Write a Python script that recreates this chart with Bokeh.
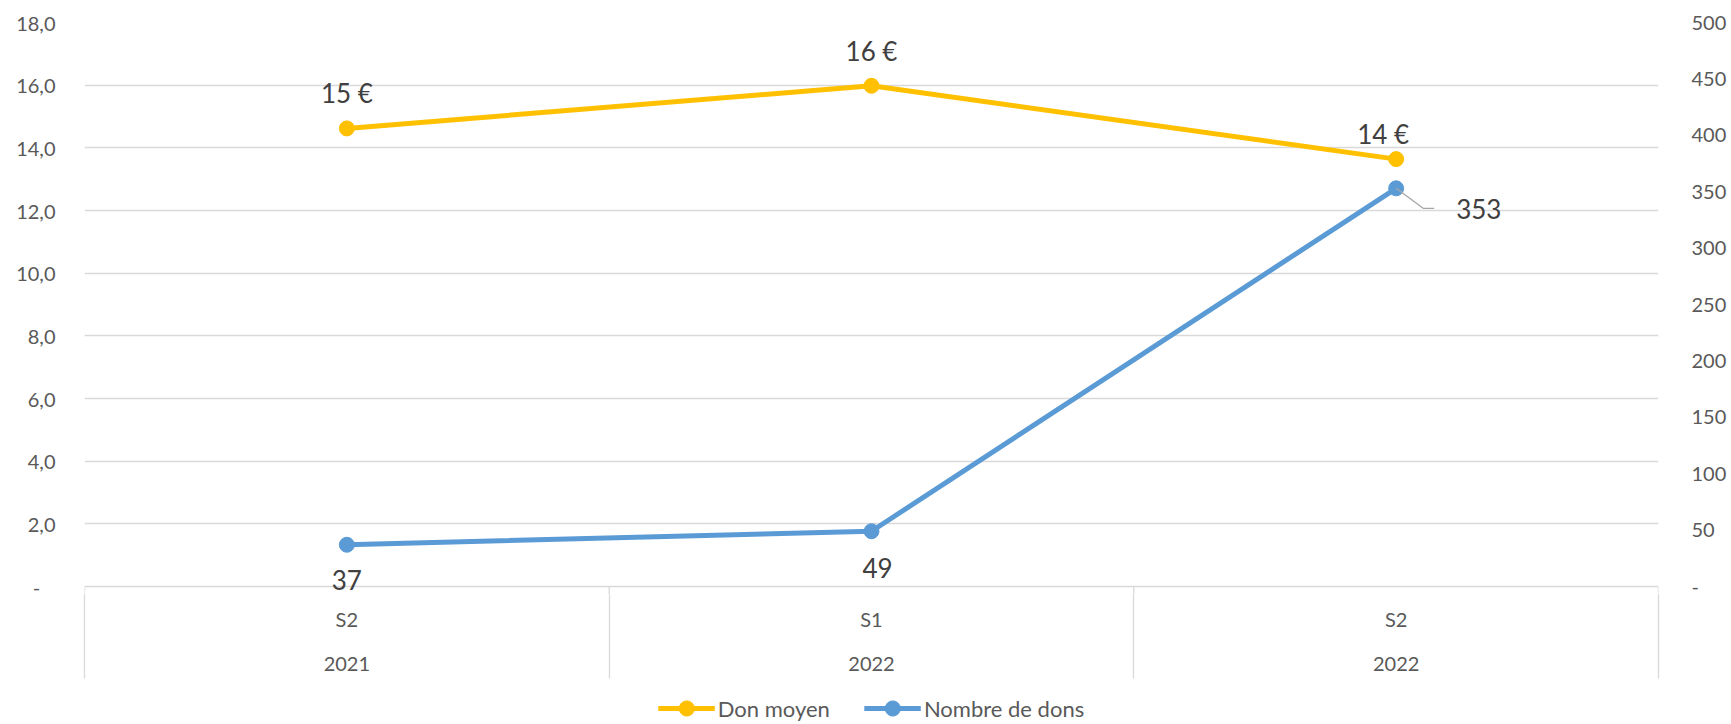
from bokeh.plotting import figure
from bokeh.layouts import column
from bokeh.models import (Range1d, LinearAxis, FixedTicker, Grid, Label,
                          Legend, LegendItem)
from bokeh.embed import file_html
from bokeh.resources import INLINE

# ---------------- data ----------------
semesters = ["S2", "S1", "S2"]
years = ["2021", "2022", "2022"]
don_moyen = [14.62, 15.98, 13.64]
nombre_dons = [37, 49, 353]
don_labels = ["15 €", "16 €", "14 €"]
nombre_labels = ["37", "49", "353"]
left_ticks = [0, 2, 4, 6, 8, 10, 12, 14, 16, 18]
left_tick_labels = ["-\u00a0\u00a0\u00a0", "2,0", "4,0", "6,0", "8,0", "10,0",
                    "12,0", "14,0", "16,0", "18,0"]
right_ticks = [0, 50, 100, 150, 200, 250, 300, 350, 400, 450, 500]
right_tick_labels = ["-", "50", "100", "150", "200", "250", "300", "350",
                     "400", "450", "500"]
series_names = ["Don moyen", "Nombre de dons"]

# ---------------- style ----------------
FONT = "Lato"
YELLOW = "#FFC000"
BLUE = "#5B9BD5"
GRID = "#D9D9D9"
TICK_COLOR = "#595959"
LABEL_COLOR = "#404040"
W = 1731
H_MAIN, H_LEG = 684, 40
BL, BR, BT = 84, 73, 22
PLOT_H = 564          # pixels between 0 and the top tick
PAD = 8               # extra frame below the zero line
BB = H_MAIN - BT - PLOT_H - PAD

n = len(semesters)
xs = [i + 0.5 for i in range(n)]
bounds = list(range(n + 1))

ytop_l, ytop_r = left_ticks[-1], right_ticks[-1]
ystart_l = -PAD * ytop_l / PLOT_H
ystart_r = -PAD * ytop_r / PLOT_H

p = figure(width=W, height=H_MAIN, output_backend="svg", toolbar_location=None,
           x_range=Range1d(0, n), y_range=Range1d(ystart_l, ytop_l),
           min_border_left=BL, min_border_right=BR, min_border_top=BT,
           min_border_bottom=BB, x_axis_location=None, y_axis_location=None)
p.center = [r for r in p.center if not isinstance(r, Grid)]
p.outline_line_color = None
p.background_fill_color = "white"
p.border_fill_color = "white"
p.extra_y_ranges = {"right": Range1d(ystart_r, ytop_r)}

# grid
p.add_layout(Grid(dimension=1, ticker=FixedTicker(ticks=left_ticks),
                  grid_line_color=GRID, grid_line_width=1.3))
# vertical separators: the part inside the frame below the zero line
p.segment(x0=bounds, y0=[0] * len(bounds), x1=bounds, y1=[ystart_l] * len(bounds),
          line_color=GRID, line_width=1.3)

TICK_SIZE = "20px"

def style_axis(ax, standoff):
    ax.major_label_text_font = FONT
    ax.major_label_text_font_size = TICK_SIZE
    ax.major_label_text_color = TICK_COLOR
    ax.major_label_standoff = standoff
    ax.major_tick_line_color = None
    ax.major_tick_in = 0
    ax.major_tick_out = 0
    ax.minor_tick_line_color = None
    ax.minor_tick_in = 0
    ax.minor_tick_out = 0
    ax.axis_line_color = None

left_axis = LinearAxis(ticker=FixedTicker(ticks=left_ticks),
                       major_label_overrides=dict(zip(left_ticks, left_tick_labels)))
style_axis(left_axis, 29)
p.add_layout(left_axis, "left")

right_axis = LinearAxis(y_range_name="right", ticker=FixedTicker(ticks=right_ticks),
                        major_label_overrides=dict(zip(right_ticks, right_tick_labels)))
style_axis(right_axis, 33)
p.add_layout(right_axis, "right")

SEP_OUT = 92 - PAD
sem_axis = LinearAxis(ticker=FixedTicker(ticks=xs, minor_ticks=bounds),
                      major_label_overrides=dict(zip(xs, semesters)))
style_axis(sem_axis, 20 - PAD - SEP_OUT)
sem_axis.minor_tick_line_color = GRID
sem_axis.minor_tick_line_width = 1.3
sem_axis.minor_tick_out = SEP_OUT
p.add_layout(sem_axis, "below")

year_axis = LinearAxis(ticker=FixedTicker(ticks=xs),
                       major_label_overrides=dict(zip(xs, years)))
style_axis(year_axis, 23)
p.add_layout(year_axis, "below")

# series
LW, MS = 5, 15
l1 = p.line(xs, don_moyen, line_color=YELLOW, line_width=LW)
s1 = p.scatter(xs, don_moyen, size=MS, fill_color=YELLOW, line_color=YELLOW)
l2 = p.line(xs, nombre_dons, line_color=BLUE, line_width=LW, y_range_name="right")
s2 = p.scatter(xs, nombre_dons, size=MS, fill_color=BLUE, line_color=BLUE,
               y_range_name="right")

# data labels
LABEL_SIZE = "26px"
don_offsets = [(0, 35), (0, 35), (-13, 25)]
nb_offsets = [(0, -35), (6, -37), (60, -21)]
for xi, yi, t, (ox, oy) in zip(xs, don_moyen, don_labels, don_offsets):
    p.add_layout(Label(x=xi, y=yi, text=t, x_offset=ox, y_offset=oy,
                       text_font=FONT, text_font_size=LABEL_SIZE, text_color=LABEL_COLOR,
                       text_align="center", text_baseline="middle"))
for i, (xi, yi, t, (ox, oy)) in enumerate(zip(xs, nombre_dons, nombre_labels, nb_offsets)):
    p.add_layout(Label(x=xi, y=yi, text=t, x_offset=ox, y_offset=oy,
                       y_range_name="right",
                       text_font=FONT, text_font_size=LABEL_SIZE, text_color=LABEL_COLOR,
                       text_align="left" if i == n - 1 else "center",
                       text_baseline="middle"))

# leader line for the last "Nombre de dons" label
frame_w = W - BL - BR
px_x = frame_w / n
px_y = PLOT_H / ytop_r
lx0, ly0 = xs[-1], nombre_dons[-1]
lx1, ly1 = lx0 + 27 / px_x, ly0 - 20 / px_y
lx2 = lx1 + 11 / px_x
p.line([lx0, lx1, lx2], [ly0, ly1, ly1], line_color="#A6A6A6", line_width=1.3,
       y_range_name="right")

# ---------------- legend (separate strip below the chart) ----------------
pl = figure(width=W, height=H_LEG, output_backend="svg", toolbar_location=None,
            x_range=Range1d(0, 1), y_range=Range1d(0, 1),
            min_border_left=10, min_border_right=0, min_border_top=0,
            min_border_bottom=0, x_axis_location=None, y_axis_location=None)
pl.center = [r for r in pl.center if not isinstance(r, Grid)]
pl.outline_line_color = None
# series copies (their values lie outside this strip's ranges, only the legend shows)
ll1 = pl.line(xs, don_moyen, line_color=YELLOW, line_width=LW)
ls1 = pl.scatter(xs, don_moyen, size=MS, fill_color=YELLOW, line_color=YELLOW)
ll2 = pl.line(xs, nombre_dons, line_color=BLUE, line_width=LW)
ls2 = pl.scatter(xs, nombre_dons, size=MS, fill_color=BLUE, line_color=BLUE)
legend = Legend(items=[LegendItem(label=series_names[0], renderers=[ll1, ls1]),
                       LegendItem(label=series_names[1], renderers=[ll2, ls2])],
                location="bottom_center", orientation="horizontal",
                label_text_font=FONT, label_text_font_size="22px",
                label_text_color=TICK_COLOR, glyph_width=57, glyph_height=38,
                label_standoff=3, spacing=34, padding=0, margin=-3,
                border_line_color=None, background_fill_alpha=0)
pl.add_layout(legend)

open("out.html", "w").write(file_html(column(p, pl, spacing=0), INLINE))
